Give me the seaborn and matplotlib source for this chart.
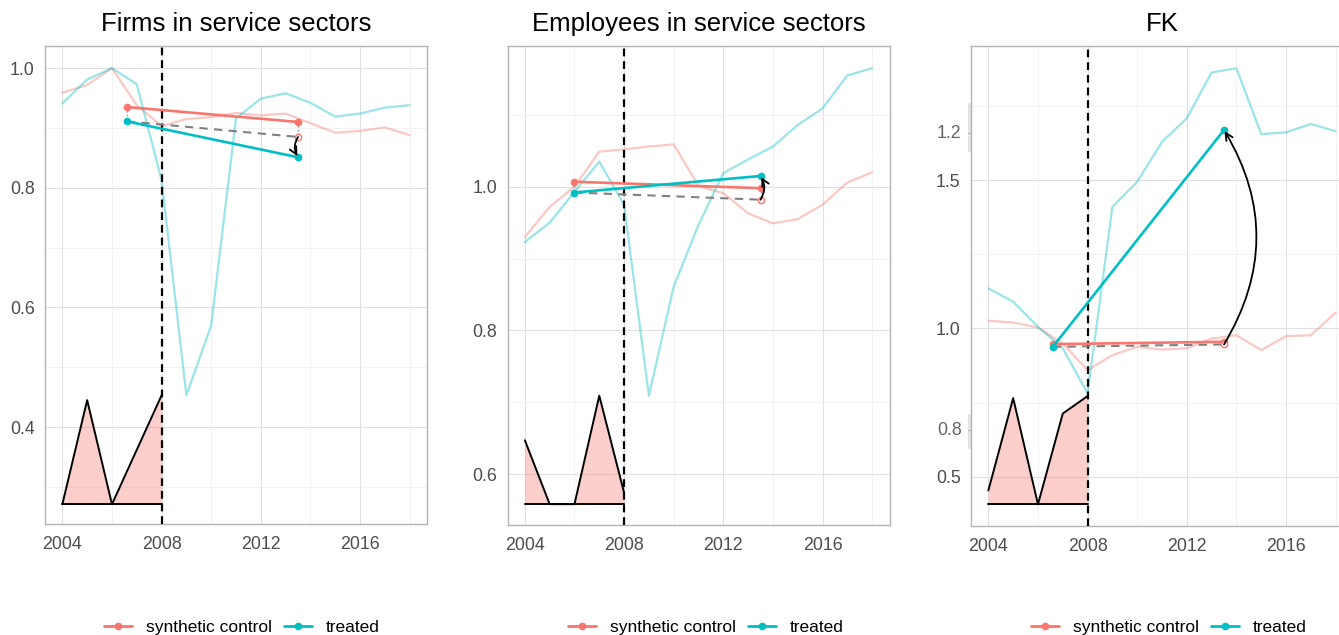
import numpy as np
import pandas as pd
import matplotlib
matplotlib.use("Agg")
import matplotlib.pyplot as plt
import seaborn as sns
from matplotlib.lines import Line2D
from matplotlib.patches import FancyArrowPatch, Rectangle
import matplotlib.transforms as mtransforms
from matplotlib.ticker import FixedLocator

# ---------------- data ----------------
years = list(range(2004, 2019))
pre_years = [2004, 2005, 2006, 2007, 2008]

titles = ["Firms in service sectors", "Employees in service sectors", "FK"]

firms_synth = [0.959, 0.972, 1.000, 0.938, 0.903, 0.915, 0.918, 0.925, 0.921, 0.924, 0.908, 0.892, 0.895, 0.901, 0.888]
firms_treat = [0.941, 0.981, 1.000, 0.973, 0.813, 0.453, 0.570, 0.916, 0.949, 0.958, 0.942, 0.919, 0.924, 0.934, 0.938]

emp_synth = [0.930, 0.972, 1.000, 1.049, 1.052, 1.056, 1.059, 1.001, 0.991, 0.963, 0.949, 0.955, 0.975, 1.006, 1.020]
emp_treat = [0.923, 0.950, 0.993, 1.035, 0.975, 0.709, 0.861, 0.947, 1.019, 1.038, 1.056, 1.086, 1.109, 1.155, 1.165]

fk_synth = [1.026, 1.020, 1.003, 0.949, 0.859, 0.910, 0.938, 0.929, 0.933, 0.966, 0.977, 0.927, 0.974, 0.977, 1.053]
fk_treat = [1.135, 1.090, 1.005, 0.933, 0.781, 1.410, 1.494, 1.629, 1.708, 1.863, 1.877, 1.655, 1.661, 1.689, 1.665]

# pre-period shaded profile (values) and its baseline
firms_poly = [0.271, 0.445, 0.271, 0.362, 0.453]
emp_poly = [0.647, 0.558, 0.558, 0.709, 0.574]
fk_poly = [0.454, 0.765, 0.407, 0.713, 0.772]
poly_base = [0.271, 0.558, 0.407]

# pre/post summary points
pre_x = [2006.6, 2006.0, 2006.6]
post_x = [2013.5, 2013.5, 2013.5]
synth_pre = [0.935, 1.007, 0.947]
synth_post = [0.910, 0.998, 0.955]
treat_pre = [0.911, 0.992, 0.938]
treat_post = [0.851, 1.015, 1.669]
counterfactual = [0.885, 0.982, 0.946]

treat_year = 2008
x_major = [2004, 2008, 2012, 2016]
x_minor = [2006, 2010, 2014, 2018]
y_major = [[0.4, 0.6, 0.8, 1.0], [0.6, 0.8, 1.0], [0.5, 1.0, 1.5]]
y_minor = [[0.3, 0.5, 0.7, 0.9], [0.7, 0.9, 1.1], [0.75, 1.25, 1.75]]
y_lims = [(0.238, 1.037), (0.529, 1.196), (0.334, 1.952)]

# odd extra labels on the FK axis
fk_extra_labels = ["1.2", "0.8"]
fk_extra_pos = [1.658, 0.656]

legend_labels = ["synthetic control", "treated"]

# ---------------- style ----------------
sns.set_theme(style="white")
plt.rcParams["font.family"] = ["Liberation Sans", "DejaVu Sans"]

RED = "#F8766D"
CYAN = "#00BFC4"
GRID = "#E0E0E0"
GRID_MINOR = "#F0F0F0"
BORDER = "#B3B3B3"
TXT = "#4D4D4D"

fig = plt.figure(figsize=(13.39, 6.35), dpi=100)
W, H = 1339.0, 635.0
lefts = [45, 507.5, 971]
pw = 382.0
top_px = 46.0
bottoms = [524.0, 525.0, 526.0]
leg_cx = [242, 706, 1169]
leg_cy = 627

synths = [firms_synth, emp_synth, fk_synth]
treats = [firms_treat, emp_treat, fk_treat]
polys = [firms_poly, emp_poly, fk_poly]

for i in range(3):
    ax = fig.add_axes([lefts[i] / W, 1 - bottoms[i] / H, pw / W, (bottoms[i] - top_px) / H])
    ax.set_facecolor("white")

    df = pd.DataFrame({
        "year": years * 2,
        "value": synths[i] + treats[i],
        "group": ["synthetic control"] * len(years) + ["treated"] * len(years),
    })
    sns.lineplot(data=df, x="year", y="value", hue="group",
                 palette={"synthetic control": RED, "treated": CYAN},
                 alpha=0.4, linewidth=1.6, legend=False, ax=ax, zorder=2)

    # shaded pre-period profile
    ax.fill_between(pre_years, poly_base[i], polys[i], color=RED, alpha=0.35, lw=0, zorder=2)
    ax.plot(pre_years, polys[i], color="black", lw=1.4, zorder=3)
    ax.plot([pre_years[0], pre_years[-1]], [poly_base[i], poly_base[i]], color="black", lw=1.4, zorder=3)

    ax.axvline(treat_year, color="black", ls=(0, (3.5, 2.2)), lw=1.6, zorder=4)

    # summary segments
    ax.plot([pre_x[i], pre_x[i]], [synth_pre[i], treat_pre[i]], color="#888888", ls=":", lw=1, zorder=4)
    ax.plot([post_x[i], post_x[i]], [synth_post[i], counterfactual[i]], color="#888888", ls=":", lw=1, zorder=4)
    ax.plot([pre_x[i], post_x[i]], [treat_pre[i], counterfactual[i]], color="#808080",
            ls=(0, (4, 3)), lw=1.5, zorder=5)
    ax.plot([pre_x[i], post_x[i]], [synth_pre[i], synth_post[i]], color=RED, lw=1.9,
            marker="o", ms=4.5, zorder=6)
    ax.plot([pre_x[i], post_x[i]], [treat_pre[i], treat_post[i]], color=CYAN, lw=1.9,
            marker="o", ms=4.5, zorder=6)
    ax.plot([post_x[i]], [counterfactual[i]], marker="o", ms=4.5, mfc="white", mec=RED,
            mew=1.0, ls="none", zorder=7)

    arr = FancyArrowPatch((post_x[i], counterfactual[i]), (post_x[i], treat_post[i]),
                          connectionstyle="arc3,rad=0.3", arrowstyle="->",
                          mutation_scale=13, lw=1.3, color="black",
                          shrinkA=0, shrinkB=1, zorder=8)
    ax.add_patch(arr)

    ax.set_xlim(2003.3, 2018.7)
    ax.set_ylim(*y_lims[i])
    ax.xaxis.set_major_locator(FixedLocator(x_major))
    ax.xaxis.set_minor_locator(FixedLocator(x_minor))
    ax.yaxis.set_major_locator(FixedLocator(y_major[i]))
    ax.yaxis.set_minor_locator(FixedLocator(y_minor[i]))
    ax.set_xticklabels([str(v) for v in x_major])
    ax.set_yticklabels([f"{v:.1f}" for v in y_major[i]])
    ax.grid(which="major", color=GRID, lw=0.8, zorder=0)
    ax.grid(which="minor", color=GRID_MINOR, lw=0.6, zorder=0)
    ax.set_axisbelow(True)
    ax.tick_params(which="major", length=3, width=0.8, color=BORDER,
                   labelcolor=TXT, labelsize=12.8)
    ax.tick_params(axis="x", which="major", pad=5.5)
    ax.tick_params(axis="y", which="major", pad=4.5)
    ax.tick_params(which="minor", length=0)
    for s in ax.spines.values():
        s.set_color(BORDER)
        s.set_linewidth(1.0)
    ax.set_xlabel("")
    ax.set_ylabel("")
    ax.set_title(titles[i], fontsize=18.5, color="black", pad=11)

    handles = [Line2D([0], [0], color=RED, lw=2, marker="o", ms=4.5),
               Line2D([0], [0], color=CYAN, lw=2, marker="o", ms=4.5)]
    ax.legend(handles, legend_labels, loc="center",
              bbox_to_anchor=(leg_cx[i] / W, 1 - leg_cy / H),
              bbox_transform=fig.transFigure,
              ncol=2, frameon=False, fontsize=12.5, handlelength=1.6,
              handletextpad=0.8, columnspacing=0.7, labelcolor="black")

    if i == 2:
        tr = mtransforms.blended_transform_factory(ax.transAxes, ax.transData)
        rects = [(1.594, 0.166), (0.595, 0.118)]
        for lab, yv, (y0, hh) in zip(fk_extra_labels, fk_extra_pos, rects):
            ax.add_patch(Rectangle((-0.009, y0), 0.009, hh, transform=tr,
                                   color="#E3E3E3", clip_on=False, zorder=1, lw=0))
            ax.text(-0.0243, yv, lab, transform=tr, ha="right", va="center",
                    fontsize=12.8, color="#666666", clip_on=False)
            ax.plot([-0.008, 0], [yv, yv], transform=tr, color=BORDER, lw=0.8, clip_on=False)

fig.savefig("out.png", dpi=100, facecolor="white")
